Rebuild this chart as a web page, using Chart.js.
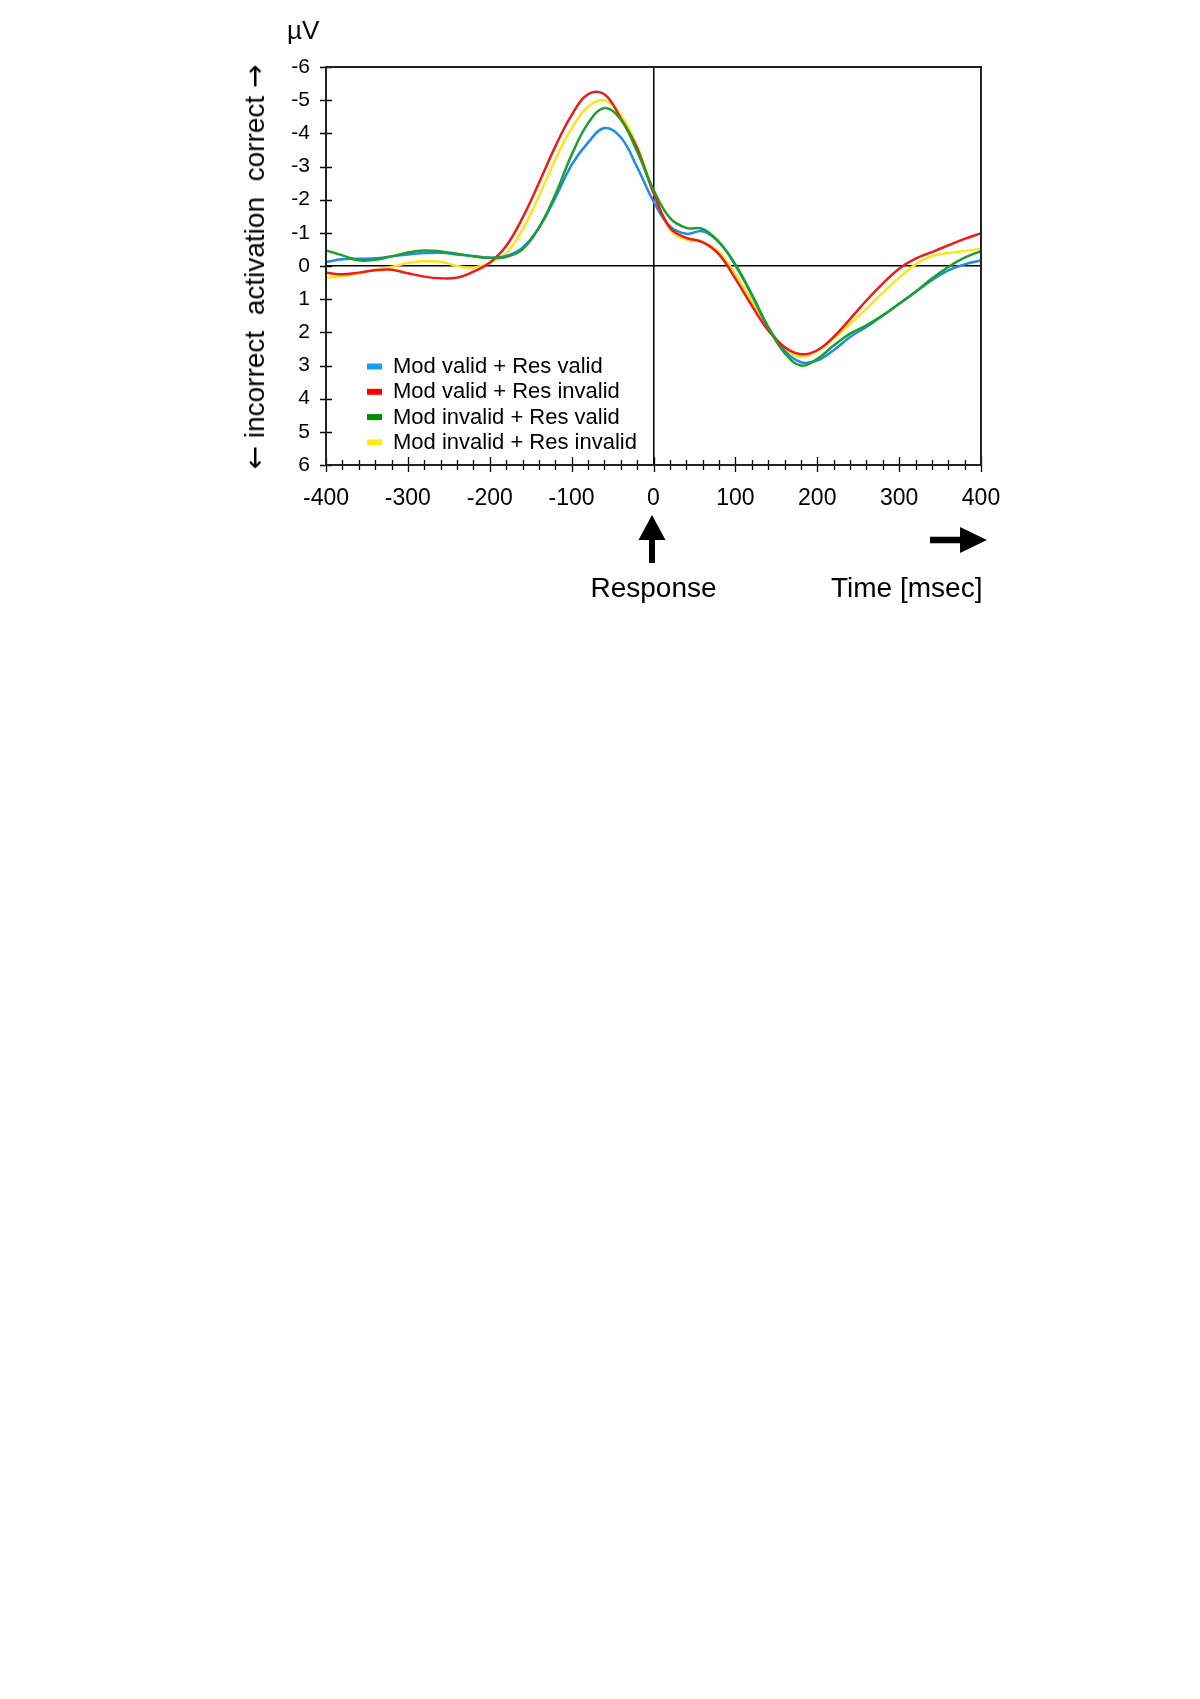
<!DOCTYPE html>
<html>
<head>
<meta charset="utf-8">
<title>Response-locked LRP</title>
<script src="https://cdn.jsdelivr.net/npm/chart.js@4.4.1/dist/chart.umd.min.js"></script>
<style>
  html, body { margin: 0; padding: 0; background: #fff; }
  body { width: 1200px; height: 1699px; position: relative; font-family: "Liberation Sans", Arial, sans-serif; color: #000; }
  #wrap { position: absolute; left: 0; top: 0; width: 1200px; height: 620px; }
  .note { position: absolute; white-space: nowrap; line-height: 1; }
  #unit { left: 287px; top: 17px; font-size: 26px; }
  #resp { top: 574px; font-size: 28px; transform: translateX(-50%); }
  #time { top: 574px; font-size: 28px; }
  #ytitle { font-size: 28px; white-space: pre; transform: translate(-50%, -50%) rotate(-90deg); }
  #ytitle .arr { font-family: "DejaVu Sans", sans-serif; }
</style>
</head>
<body>
<div id="wrap"><canvas id="lrp" width="1200" height="620"></canvas></div>
<div class="note" id="unit">µV</div>
<div class="note" id="ytitle"><span class="arr">←</span> incorrect  activation  correct <span class="arr">→</span></div>
<div class="note" id="resp">Response</div>
<div class="note" id="time">Time [msec]</div>
<script>
// time points (ms relative to response)
const times = [-400, -380, -360, -340, -320, -300, -280, -260, -240, -220, -200,
  -180, -160, -140, -120, -100, -80, -60, -40, -20, 0,
  20, 40, 60, 80, 100, 120, 140, 160, 180, 200,
  220, 240, 260, 280, 300, 320, 340, 360, 380, 400];

const seriesNames = ['Mod valid + Res valid', 'Mod valid + Res invalid',
  'Mod invalid + Res valid', 'Mod invalid + Res invalid'];

// µV, negative = correct activation (plotted upward)
const modValidResValid = [-0.12, -0.2, -0.22, -0.23, -0.29, -0.35, -0.39, -0.4, -0.35, -0.3, -0.25,
  -0.3, -0.55, -1.15, -2.05, -3.05, -3.72, -4.16, -3.88, -2.98, -1.95,
  -1.2, -0.97, -1.05, -0.72, -0.02, 0.88, 1.84, 2.54, 2.9, 2.85,
  2.54, 2.14, 1.84, 1.49, 1.14, 0.78, 0.43, 0.13, -0.05, -0.17];
const modValidResInvalid = [0.2, 0.25, 0.2, 0.13, 0.11, 0.22, 0.32, 0.37, 0.35, 0.17, -0.1,
  -0.6, -1.45, -2.5, -3.6, -4.55, -5.18, -5.18, -4.45, -3.55, -2.2,
  -1.15, -0.85, -0.72, -0.35, 0.38, 1.19, 1.94, 2.44, 2.66, 2.54,
  2.14, 1.6, 1.04, 0.53, 0.08, -0.22, -0.42, -0.62, -0.82, -0.99];
const modInvalidResValid = [-0.47, -0.32, -0.17, -0.19, -0.29, -0.41, -0.47, -0.44, -0.37, -0.29, -0.25,
  -0.27, -0.5, -1.15, -2.15, -3.35, -4.3, -4.76, -4.42, -3.45, -2.3,
  -1.45, -1.15, -1.12, -0.72, -0.05, 0.85, 1.84, 2.62, 3.0, 2.8,
  2.4, 2.04, 1.79, 1.49, 1.14, 0.78, 0.38, 0.03, -0.25, -0.45];
const modInvalidResInvalid = [0.35, 0.31, 0.23, 0.11, 0.03, -0.09, -0.14, -0.13, 0.0, 0.05, -0.1,
  -0.38, -1.1, -2.1, -3.2, -4.15, -4.8, -5.0, -4.55, -3.6, -2.25,
  -1.1, -0.8, -0.72, -0.42, 0.25, 1.04, 1.84, 2.49, 2.74, 2.56,
  2.19, 1.74, 1.29, 0.8, 0.35, -0.05, -0.3, -0.39, -0.45, -0.52];

const xTickLabels = ['-400', '-300', '-200', '-100', '0', '100', '200', '300', '400'];
const yTickLabels = ['-6', '-5', '-4', '-3', '-2', '-1', '0', '1', '2', '3', '4', '5', '6'];

const lineColors = ['#1d8ceb', '#ee1b1b', '#1e9e2a', '#fde51c'];
const legendColors = ['#12a0ee', '#ff0000', '#008c00', '#fff000'];
const FONT = '"Liberation Sans", Arial, sans-serif';

const allSeries = [modValidResValid, modValidResInvalid, modInvalidResValid, modInvalidResInvalid];

// tick marks crossing the axes + closed frame
const tickMarks = {
  id: 'tickMarks',
  afterDraw(chart) {
    const { ctx, chartArea: a, scales: { x, y } } = chart;
    ctx.save();
    ctx.strokeStyle = '#000';
    ctx.lineWidth = 1.3;
    ctx.beginPath();
    y.ticks.forEach(t => {
      const py = Math.round(y.getPixelForValue(t.value)) + 0.5;
      ctx.moveTo(a.left - 6, py);
      ctx.lineTo(a.left + 6, py);
    });
    x.ticks.forEach(t => {
      const px = Math.round(x.getPixelForValue(t.value)) + 0.5;
      const major = t.value % 100 === 0;
      ctx.moveTo(px, a.bottom - (major ? 8 : 5));
      ctx.lineTo(px, a.bottom + (major ? 7 : 5));
    });
    ctx.stroke();
    ctx.strokeStyle = '#222';
    ctx.lineWidth = 2;
    ctx.strokeRect(a.left, a.top, a.right - a.left, a.bottom - a.top);
    ctx.restore();
  }
};

// legend sitting inside the plot, lower left
const innerLegend = {
  id: 'innerLegend',
  afterDraw(chart) {
    const { ctx, chartArea: a } = chart;
    ctx.save();
    ctx.font = '22px ' + FONT;
    ctx.textBaseline = 'middle';
    chart.data.datasets.forEach((ds, i) => {
      const cy = a.bottom - 99 + i * 25.3;
      ctx.fillStyle = legendColors[i];
      ctx.fillRect(a.left + 41, cy - 2.5, 15, 6);
      ctx.fillStyle = '#000';
      ctx.fillText(ds.label, a.left + 67, cy + 1);
    });
    ctx.restore();
  }
};

// the two black arrows under the x axis
const arrows = {
  id: 'arrows',
  afterDraw(chart) {
    const { ctx, chartArea: a, scales: { x } } = chart;
    const x0 = x.getPixelForValue(0) - 1.5;
    const b = a.bottom;
    ctx.save();
    ctx.fillStyle = '#000';
    ctx.beginPath();
    ctx.moveTo(x0, b + 50);
    ctx.lineTo(x0 + 13.5, b + 75);
    ctx.lineTo(x0 + 3, b + 75);
    ctx.lineTo(x0 + 3, b + 98);
    ctx.lineTo(x0 - 3, b + 98);
    ctx.lineTo(x0 - 3, b + 75);
    ctx.lineTo(x0 - 13.5, b + 75);
    ctx.closePath();
    ctx.fill();
    const r = a.right + 6;
    const cy = b + 75;
    ctx.beginPath();
    ctx.moveTo(r, cy);
    ctx.lineTo(r - 27, cy - 13);
    ctx.lineTo(r - 27, cy - 3.3);
    ctx.lineTo(r - 57, cy - 3.3);
    ctx.lineTo(r - 57, cy + 3.3);
    ctx.lineTo(r - 27, cy + 3.3);
    ctx.lineTo(r - 27, cy + 13);
    ctx.closePath();
    ctx.fill();
    ctx.restore();
  }
};

const zeroLine = ctx => (ctx.tick && ctx.tick.value === 0 ? '#000' : 'rgba(0,0,0,0)');

const chart = new Chart(document.getElementById('lrp'), {
  type: 'line',
  data: {
    datasets: allSeries.map((vals, i) => ({
      label: seriesNames[i],
      data: times.map((t, j) => ({ x: t, y: vals[j] })),
      borderColor: lineColors[i],
      backgroundColor: lineColors[i],
      borderWidth: 2.5,
      pointRadius: 0,
      tension: 0.4,
      fill: false,
      order: [2, 1, 0, 3][i]
    }))
  },
  options: {
    responsive: false,
    animation: false,
    devicePixelRatio: 1,
    layout: { padding: { left: 238, top: 67, right: 219, bottom: 0 } },
    plugins: {
      legend: { display: false },
      tooltip: { enabled: false }
    },
    scales: {
      x: {
        type: 'linear',
        min: -400,
        max: 400,
        afterFit: s => { s.height = 155; },
        border: { display: true, color: '#000', width: 2 },
        grid: { drawTicks: false, color: zeroLine, lineWidth: 1.5 },
        ticks: {
          stepSize: 20,
          autoSkip: false,
          maxRotation: 0,
          padding: 20,
          color: '#000',
          font: { family: FONT, size: 23 },
          callback: v => (v % 100 === 0 ? xTickLabels[(v + 400) / 100] : '')
        }
      },
      y: {
        type: 'linear',
        reverse: true,
        min: -6,
        max: 6,
        afterFit: s => { s.width = 88; },
        border: { display: true, color: '#000', width: 2 },
        grid: { drawTicks: false, color: zeroLine, lineWidth: 1.5 },
        ticks: {
          stepSize: 1,
          padding: 16,
          color: '#000',
          font: { family: FONT, size: 21 },
          callback: v => yTickLabels[v + 6]
        }
      }
    }
  },
  plugins: [tickMarks, innerLegend, arrows]
});

// place the annotations from the chart's own scale and area
const area = chart.chartArea;
const yTitle = document.getElementById('ytitle');
yTitle.style.left = '255px';
yTitle.style.top = ((area.top + area.bottom) / 2 + 1) + 'px';
document.getElementById('resp').style.left = chart.scales.x.getPixelForValue(0) + 'px';
const timeEl = document.getElementById('time');
timeEl.style.left = (area.right - timeEl.offsetWidth + 1) + 'px';
</script>
</body>
</html>
